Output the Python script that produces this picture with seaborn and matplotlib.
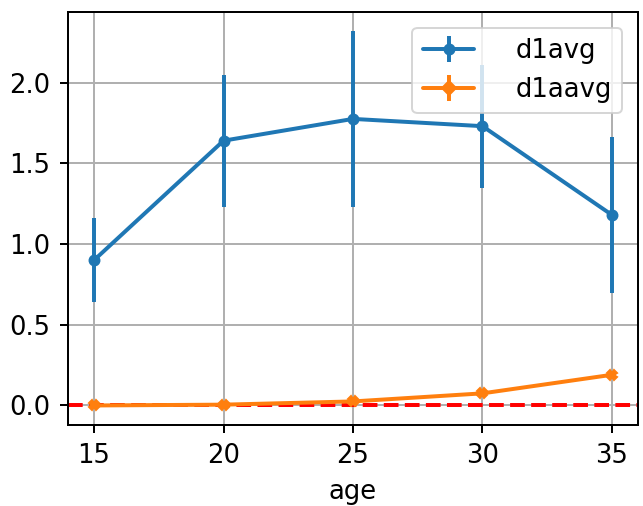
import numpy as np
import pandas as pd
import seaborn as sns
import matplotlib
matplotlib.use("Agg")
import matplotlib.pyplot as plt

# datos
ages = [15, 20, 25, 30, 35]
d1avg = [0.90, 1.64, 1.775, 1.73, 1.18]
d1avg_err = [0.26, 0.41, 0.545, 0.38, 0.485]
d1aavg = [0.0, 0.005, 0.025, 0.075, 0.19]
d1aavg_err = [0.005, 0.005, 0.008, 0.012, 0.02]

sns.set_style("ticks")
colors = sns.color_palette("tab10")

fig = plt.figure(figsize=(643 / 143, 506 / 143), dpi=143)
ax = fig.add_axes([0.106, 0.16, 0.886, 0.816])

ax.errorbar(ages, d1avg, yerr=d1avg_err, color=colors[0], marker="o",
            markersize=5, linewidth=2, elinewidth=2, label="d1avg")
ax.errorbar(ages, d1aavg, yerr=d1aavg_err, color=colors[1], marker="X",
            markersize=5, linewidth=2, elinewidth=2, label="d1aavg")
ax.axhline(0, color="red", linestyle="--", linewidth=2)

ax.set_xticks(ages)
ax.set_yticks([0.0, 0.5, 1.0, 1.5, 2.0])
ax.set_xlabel("age", fontsize=13, color="black", labelpad=5)
ax.grid(True, color="#b0b0b0", linewidth=1)
for s in ax.spines.values():
    s.set_color("black")
    s.set_linewidth(1)
ax.tick_params(labelsize=13, labelcolor="black", direction="out",
               length=4, width=1, color="black", pad=5)
leg = ax.legend(loc="upper right", fontsize=13, handletextpad=1.6,
                framealpha=0.8, borderaxespad=0.6)
for t in leg.get_texts():
    t.set_color("black")

fig.savefig("out.png", dpi=143)
